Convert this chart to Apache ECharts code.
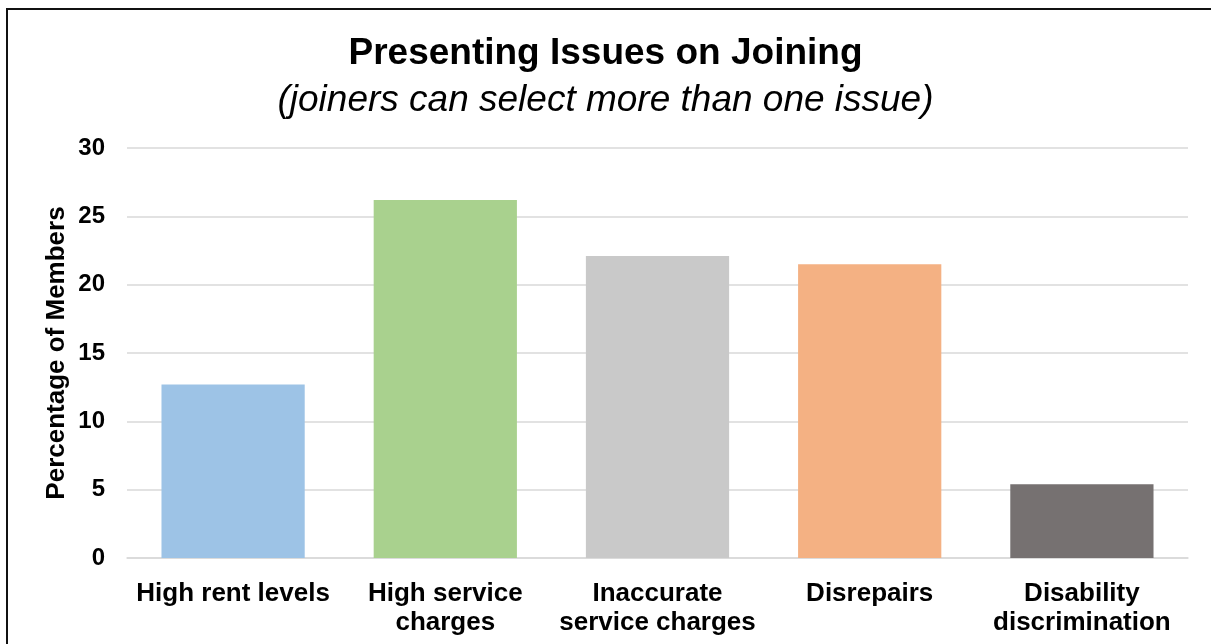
<!DOCTYPE html>
<html>
<head>
<meta charset="utf-8">
<script src="https://cdn.jsdelivr.net/npm/echarts@6/dist/echarts.min.js"></script>
<style>
html,body{margin:0;padding:0;background:#fff;}
#chart{width:1211px;height:644px;}
</style>
</head>
<body>
<div id="chart"></div>
<script>
const categories = ["High rent levels", "High service\ncharges", "Inaccurate\nservice charges", "Disrepairs", "Disability\ndiscrimination"];
const values = [12.7, 26.2, 22.1, 21.5, 5.4];
const barColors = ["#9DC3E6", "#A9D18E", "#C9C9C9", "#F4B183", "#767171"];
const titleText = "Presenting Issues on Joining";
const subtitleText = "(joiners can select more than one issue)";
const yAxisName = "Percentage of Members";

const chart = echarts.init(document.getElementById('chart'), null, {renderer: 'canvas'});
const font = 'Arial, "Liberation Sans", sans-serif';
chart.setOption({
  backgroundColor: '#fff',
  animation: false,
  title: [
    {text: titleText, left: 'center', top: 30,
     textStyle: {fontFamily: font, fontSize: 37, fontWeight: 'bold', color: '#000'}},
    {text: subtitleText, left: 'center', top: 77,
     textStyle: {fontFamily: font, fontSize: 37, fontWeight: 'normal', fontStyle: 'italic', color: '#000'}}
  ],
  graphic: [
    {type: 'line', shape: {x1: 6, y1: 9, x2: 1211, y2: 9}, style: {stroke: '#111', lineWidth: 2}},
    {type: 'line', shape: {x1: 7, y1: 8, x2: 7, y2: 644}, style: {stroke: '#111', lineWidth: 2}}
  ],
  grid: {left: 127, right: 23, top: 148, bottom: 86},
  xAxis: {
    type: 'category', data: categories,
    axisLine: {lineStyle: {color: '#D9D9D9', width: 1.5}},
    axisTick: {show: false},
    axisLabel: {interval: 0, margin: 21, fontFamily: font, fontSize: 26, fontWeight: 'bold', color: '#000', lineHeight: 29}
  },
  yAxis: {
    type: 'value', min: 0, max: 30, interval: 5,
    name: yAxisName, nameLocation: 'middle', nameGap: 57, nameMoveOverlap: false,
    nameTextStyle: {fontFamily: font, fontSize: 26, fontWeight: 'bold', color: '#000'},
    axisLine: {show: false}, axisTick: {show: false},
    axisLabel: {margin: 22, fontFamily: font, fontSize: 24, fontWeight: 'bold', color: '#000'},
    splitLine: {lineStyle: {color: '#D9D9D9', width: 1.5}}
  },
  series: [{
    type: 'bar', data: values.map((v, i) => ({value: v, itemStyle: {color: barColors[i]}})),
    barCategoryGap: '32.5%'
  }]
});
</script>
</body>
</html>
